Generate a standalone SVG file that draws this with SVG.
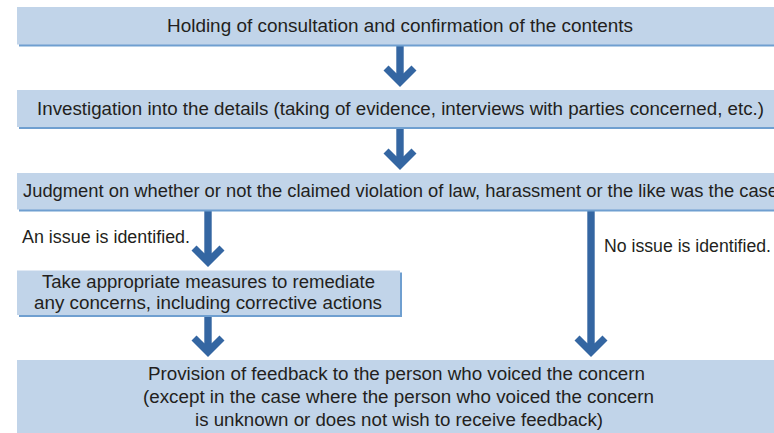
<svg xmlns="http://www.w3.org/2000/svg" width="774" height="433" viewBox="0 0 774 433">
<style>
.box{fill:#c1d4e9}
.sh{fill:#6f9fd0}
.t{font-family:"Liberation Sans",Arial,Helvetica,sans-serif;font-size:17.5px;fill:#231f20}
.ar{fill:#3466a2}
</style>
<defs>
<path id="head" d="M0,0 L-16.5,-16.5 L-11.5,-21.5 L-3.7,-13.7 L3.7,-13.7 L11.5,-21.5 L16.5,-16.5 Z"/>
</defs>
<g id="connectors" class="ar">
<rect x="396.3" y="45" width="7.4" height="33"/>
<use href="#head" x="400" y="87"/>
<rect x="396.3" y="128" width="7.4" height="33"/>
<use href="#head" x="400" y="170"/>
<rect x="204.3" y="211" width="7.4" height="47"/>
<use href="#head" x="208" y="267"/>
<rect x="587.3" y="211" width="7.4" height="137"/>
<use href="#head" x="591" y="357"/>
<rect x="204.3" y="316" width="7.4" height="32"/>
<use href="#head" x="208" y="357"/>
</g>
<g id="n1">
<rect class="sh" x="19" y="9" width="760" height="37.5"/>
<rect class="box" x="17" y="7" width="760" height="37.5"/>
<text class="t" x="167" y="32" textLength="466" lengthAdjust="spacingAndGlyphs">Holding of consultation and confirmation of the contents</text>
</g>
<g id="n2">
<rect class="sh" x="19" y="92" width="760" height="37"/>
<rect class="box" x="17" y="90" width="760" height="37"/>
<text class="t" x="37" y="115" textLength="727" lengthAdjust="spacingAndGlyphs">Investigation into the details (taking of evidence, interviews with parties concerned, etc.)</text>
</g>
<g id="n3">
<rect class="sh" x="19" y="175" width="760" height="36.5"/>
<rect class="box" x="17" y="173" width="760" height="36.5"/>
<text class="t" x="23" y="197" textLength="755" lengthAdjust="spacingAndGlyphs">Judgment on whether or not the claimed violation of law, harassment or the like was the case</text>
</g>
<g id="lbl-yes">
<text class="t" x="22" y="243" textLength="168" lengthAdjust="spacingAndGlyphs">An issue is identified.</text>
</g>
<g id="lbl-no">
<text class="t" x="604" y="252" textLength="167" lengthAdjust="spacingAndGlyphs">No issue is identified.</text>
</g>
<g id="n4">
<rect class="sh" x="19" y="272.5" width="383" height="44.5"/>
<rect class="box" x="17" y="270.5" width="383" height="44.5"/>
<text class="t" x="42" y="288" textLength="333" lengthAdjust="spacingAndGlyphs">Take appropriate measures to remediate</text>
<text class="t" x="34" y="309" textLength="348" lengthAdjust="spacingAndGlyphs">any concerns, including corrective actions</text>
</g>
<g id="n5">
<rect class="box" x="17" y="360" width="760" height="75"/>
<text class="t" x="148" y="380" textLength="497" lengthAdjust="spacingAndGlyphs">Provision of feedback to the person who voiced the concern</text>
<text class="t" x="143" y="403" textLength="511" lengthAdjust="spacingAndGlyphs">(except in the case where the person who voiced the concern</text>
<text class="t" x="195" y="426" textLength="408" lengthAdjust="spacingAndGlyphs">is unknown or does not wish to receive feedback)</text>
</g>
</svg>
